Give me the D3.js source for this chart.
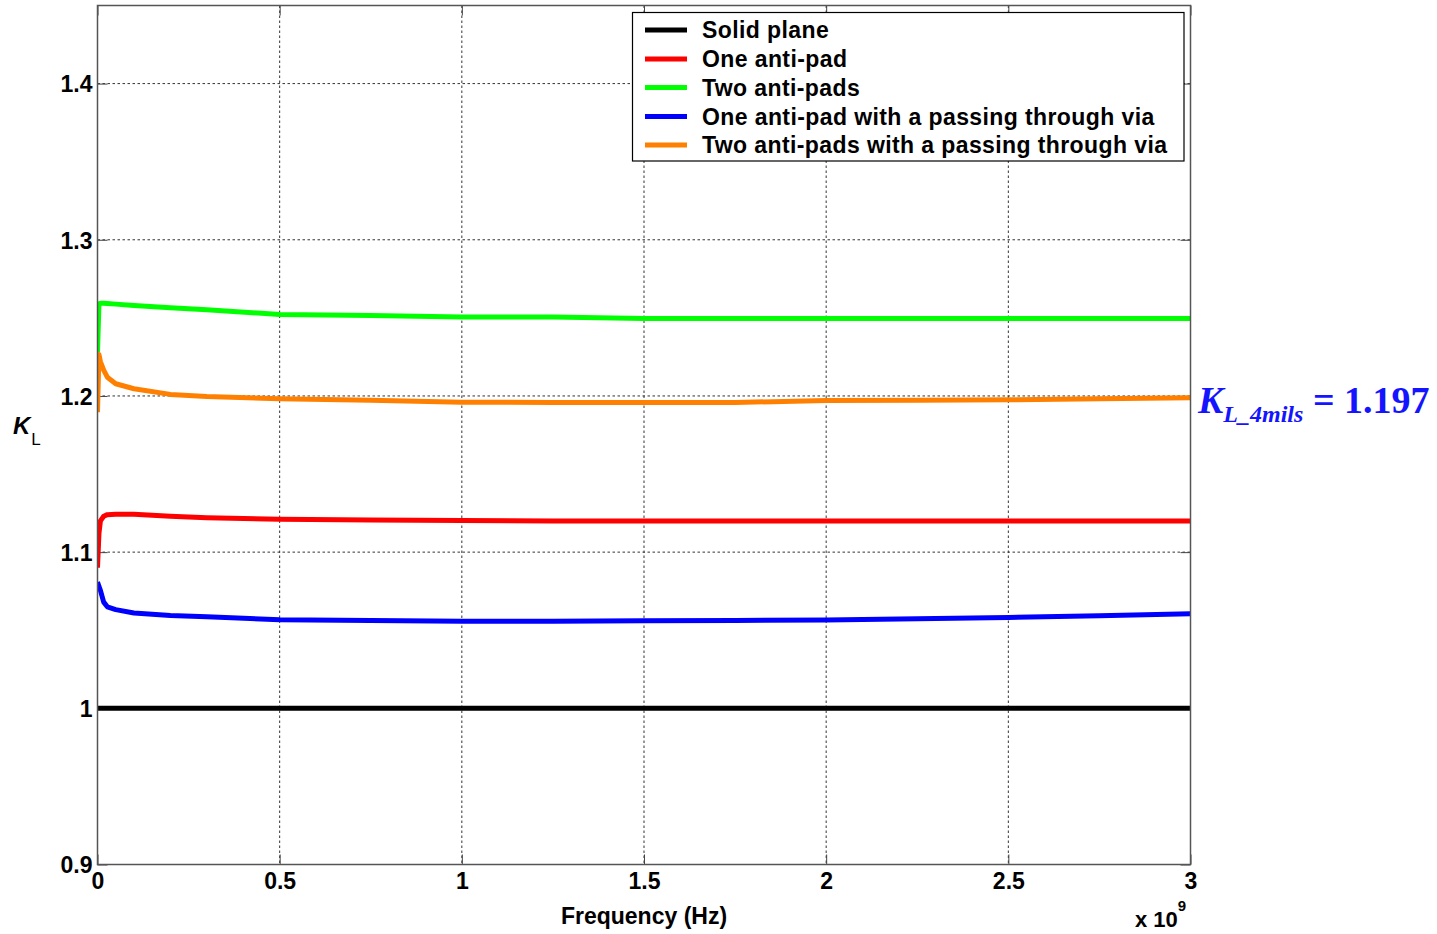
<!DOCTYPE html>
<html>
<head>
<meta charset="utf-8">
<script src="https://cdn.jsdelivr.net/npm/d3@7/dist/d3.min.js"></script>
<style>
  html, body { margin: 0; padding: 0; background: #fff; }
  svg { display: block; }
  text { font-family: "Liberation Sans", Arial, Helvetica, sans-serif; }
</style>
</head>
<body>
<svg id="chart" width="1437" height="934"></svg>
<script>
// Frequency samples, in units of 1e9 Hz
const freq = [0, 0.004, 0.008, 0.017, 0.027, 0.05, 0.1, 0.2, 0.3, 0.5, 0.75, 1.0, 1.25, 1.5, 1.75, 2.0, 2.25, 2.5, 2.75, 3.0];

// Loop inductance ratio K_L for each return-path configuration
const solidPlane = [1, 1, 1, 1, 1, 1, 1, 1, 1, 1, 1, 1, 1, 1, 1, 1, 1, 1, 1, 1];
const oneAntiPad = [1.090, 1.112, 1.120, 1.123, 1.124, 1.1242, 1.1242, 1.123, 1.122, 1.121, 1.1205, 1.1202, 1.120, 1.120, 1.120, 1.120, 1.120, 1.120, 1.120, 1.120];
const twoAntiPads = [1.228, 1.259, 1.2594, 1.2594, 1.2592, 1.2588, 1.2579, 1.2564, 1.2552, 1.2522, 1.2515, 1.2506, 1.2506, 1.2496, 1.2496, 1.2496, 1.2496, 1.2496, 1.2496, 1.2496];
const oneAntiPadVia = [1.0808, 1.078, 1.0755, 1.068, 1.065, 1.0632, 1.061, 1.0595, 1.0586, 1.0567, 1.0562, 1.0557, 1.0558, 1.056, 1.0563, 1.0566, 1.0573, 1.0582, 1.0593, 1.0605];
const twoAntiPadsVia = [1.1896, 1.2266, 1.222, 1.2165, 1.212, 1.2078, 1.2046, 1.2010, 1.1997, 1.1982, 1.1972, 1.1960, 1.1958, 1.1958, 1.1958, 1.1971, 1.1972, 1.1975, 1.1982, 1.1988];

const seriesNames = ["Solid plane", "One anti-pad", "Two anti-pads", "One anti-pad with a passing through via", "Two anti-pads with a passing through via"];
const seriesColors = ["#000000", "#ff0000", "#00ff00", "#0000ff", "#ff8000"];
const seriesValues = [solidPlane, oneAntiPad, twoAntiPads, oneAntiPadVia, twoAntiPadsVia];

const xTicks = [0, 0.5, 1, 1.5, 2, 2.5, 3];
const xTickLabels = ["0", "0.5", "1", "1.5", "2", "2.5", "3"];
const yTicks = [0.9, 1.0, 1.1, 1.2, 1.3, 1.4];
const yTickLabels = ["0.9", "1", "1.1", "1.2", "1.3", "1.4"];

const annotationValue = 1.197;

const svg = d3.select("#chart");
const margin = { left: 97.5, top: 5.5, right: 1437 - 1190.5, bottom: 934 - 864.5 };
const W = 1437 - margin.left - margin.right;
const H = 934 - margin.top - margin.bottom;

const x = d3.scaleLinear().domain([0, 3]).range([0, W]);
const y = d3.scaleLinear().domain([0.9, 1.45]).range([H, 0]);

const g = svg.append("g").attr("transform", `translate(${margin.left},${margin.top})`);

g.append("rect").attr("width", W).attr("height", H).attr("fill", "#fff");

// dotted grid
g.append("g").selectAll("line.vg").data(xTicks.slice(1, -1)).join("line")
  .attr("x1", d => x(d)).attr("x2", d => x(d)).attr("y1", 0).attr("y2", H)
  .attr("stroke", "#333").attr("stroke-width", 1).attr("stroke-dasharray", "2.5,2.5");
g.append("g").selectAll("line.hg").data(yTicks.slice(1)).join("line")
  .attr("x1", 0).attr("x2", W).attr("y1", d => y(d)).attr("y2", d => y(d))
  .attr("stroke", "#333").attr("stroke-width", 1).attr("stroke-dasharray", "2.5,2.5");

// inward tick marks on all four sides
const tickLen = 10;
const axisBottom = d3.axisBottom(x).tickValues(xTicks).tickSize(-tickLen).tickFormat((d, i) => xTickLabels[i]).tickPadding(tickLen + 6);
const axisTop = d3.axisTop(x).tickValues(xTicks).tickSize(-tickLen).tickFormat("");
const axisLeft = d3.axisLeft(y).tickValues(yTicks).tickSize(-tickLen).tickFormat((d, i) => yTickLabels[i]).tickPadding(tickLen + 6);
const axisRight = d3.axisRight(y).tickValues(yTicks).tickSize(-tickLen).tickFormat("");

function styleAxis(sel) {
  sel.select(".domain").remove();
  sel.selectAll(".tick line").attr("stroke", "#444").attr("stroke-width", 1);
  sel.selectAll(".tick text").attr("fill", "#000")
    .style("font-family", "'Liberation Sans', Arial, sans-serif")
    .style("font-size", "23px").style("font-weight", "bold");
}

const gx = g.append("g").attr("transform", `translate(0,${H})`).call(axisBottom).call(styleAxis);
gx.selectAll(".tick text").attr("dy", "0.71em").attr("y", 8);
g.append("g").call(axisTop).call(styleAxis);
const gy = g.append("g").call(axisLeft).call(styleAxis);
gy.selectAll(".tick text").attr("x", -5).attr("dy", "0.36em");
g.append("g").attr("transform", `translate(${W},0)`).call(axisRight).call(styleAxis);

// data lines
g.append("clipPath").attr("id", "plotClip").append("rect")
  .attr("x", 0).attr("y", 0).attr("width", W).attr("height", H);

const line = d3.line().x((d, i) => x(freq[i])).y(d => y(d));
g.append("g").attr("clip-path", "url(#plotClip)")
  .selectAll("path").data(seriesValues).join("path")
  .attr("d", d => line(d))
  .attr("fill", "none")
  .attr("stroke", (d, i) => seriesColors[i])
  .attr("stroke-width", 5)
  .attr("stroke-linejoin", "round");

// axes box
g.append("rect").attr("width", W).attr("height", H)
  .attr("fill", "none").attr("stroke", "#555").attr("stroke-width", 1.5);

// legend
const legend = svg.append("g");
legend.append("rect").attr("x", 632.5).attr("y", 12.5).attr("width", 551.5).attr("height", 148.5)
  .attr("fill", "#fff").attr("stroke", "#000").attr("stroke-width", 1.2);
const rowY = [30, 59, 87.5, 116.5, 145];
seriesNames.forEach((name, i) => {
  legend.append("line").attr("x1", 645).attr("x2", 687).attr("y1", rowY[i]).attr("y2", rowY[i])
    .attr("stroke", seriesColors[i]).attr("stroke-width", 5);
  legend.append("text").attr("x", 702).attr("y", rowY[i]).attr("dy", "0.36em")
    .style("font-size", "23px").style("font-weight", "bold").style("letter-spacing", "0.4px")
    .attr("fill", "#000").text(name);
});

// axis labels
svg.append("text").attr("x", margin.left + x(1.5)).attr("y", 924).attr("text-anchor", "middle")
  .style("font-size", "23px").style("font-weight", "bold").text("Frequency (Hz)");

const expo = svg.append("text").attr("x", 1135).attr("y", 927)
  .style("font-size", "22px").style("font-weight", "bold");
expo.append("tspan").text("x 10");
expo.append("tspan").attr("dy", -16).style("font-size", "15px").text("9");

const yl = svg.append("text").attr("x", 13).attr("y", 434).style("font-size", "24px");
yl.append("tspan").style("font-style", "italic").style("font-weight", "bold").text("K");
yl.append("tspan").attr("dy", 11).attr("dx", 1).style("font-size", "17px").text("L");

// annotation of the value of the orange curve
const ann = svg.append("text").attr("x", 1198).attr("y", 413)
  .attr("fill", "#1414ff")
  .style("font-family", "'Liberation Serif', 'Times New Roman', serif")
  .style("font-weight", "bold").style("font-size", "38px");
ann.append("tspan").style("font-style", "italic").text("K");
ann.append("tspan").attr("dy", 9).style("font-style", "italic").style("font-size", "24px").text("L_4mils");
ann.append("tspan").attr("dy", -9).text(" = " + d3.format(".3f")(annotationValue));
</script>
</body>
</html>
